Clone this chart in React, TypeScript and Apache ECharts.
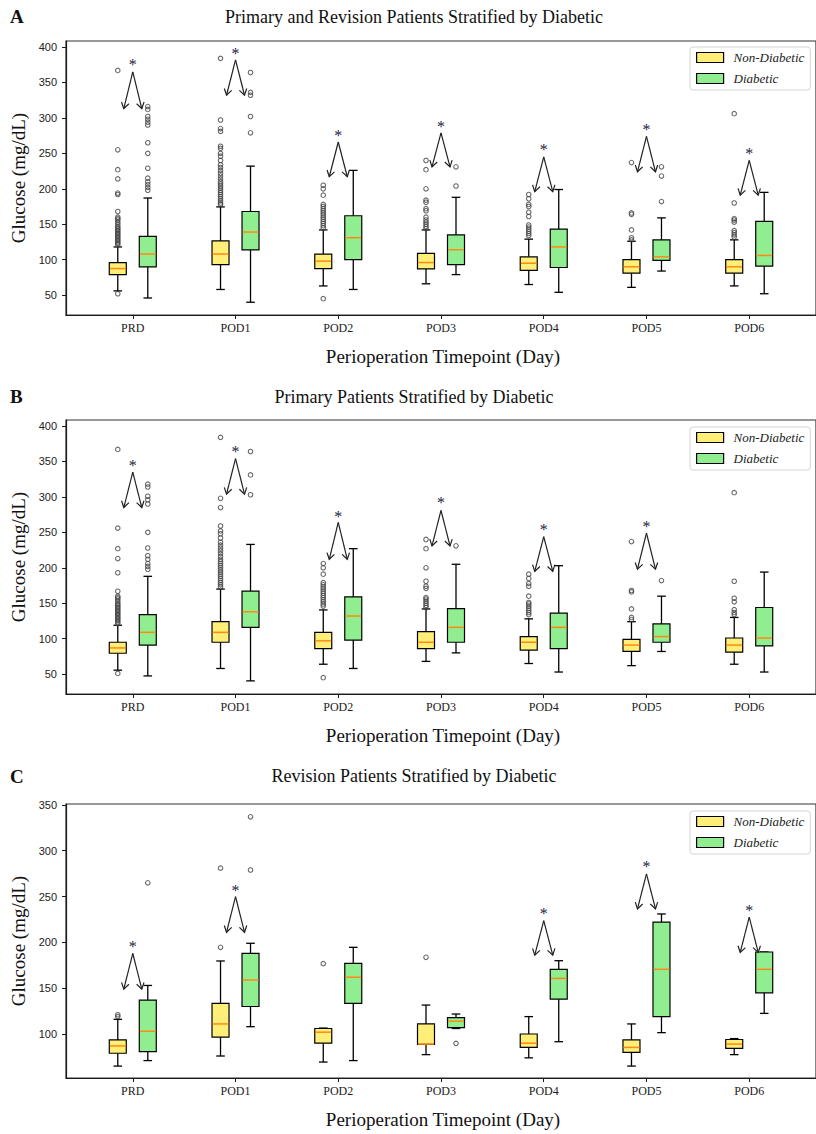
import React, { useEffect, useRef } from 'react';
import * as echarts from 'echarts';

const categories = ['PRD', 'POD1', 'POD2', 'POD3', 'POD4', 'POD5', 'POD6'];
const tickPositions = [1, 2, 3, 4, 5, 6, 7];
const yTicksAB = [50, 100, 150, 200, 250, 300, 350, 400];
const yTicksC = [100, 150, 200, 250, 300, 350];

const panelTitles = [
  'Primary and Revision Patients Stratified by Diabetic',
  'Primary Patients Stratified by Diabetic',
  'Revision Patients Stratified by Diabetic',
];
const panelLetters = ['A', 'B', 'C'];
const groupNames = ['Non-Diabetic', 'Diabetic'];

// box stats per category: [low whisker, Q1, median, Q3, high whisker]
const aNonDiabeticBox = [
  [56, 79, 87.5, 96, 118], [58, 93, 108, 126.5, 174.5], [63, 87.5, 98, 108, 142], [66, 87, 96, 109, 142],
  [65, 85, 95, 104, 129], [61, 81, 90, 100, 126], [63, 81, 90, 100, 128],
];
const aDiabeticBox = [
  [46, 90, 108, 133, 187], [40, 114, 139, 168, 232], [58, 100, 131, 162, 226], [79, 93, 114, 135, 188],
  [54, 89, 118, 143, 199], [84, 99, 104, 128, 159], [52, 91, 106, 154, 195],
];
const aNonDiabeticOutliers = [
  [52, 121, 123, 125, 127, 129, 131, 133, 135, 137, 139, 141, 143, 145, 147, 150, 153, 156, 158, 160, 168, 192, 194, 214, 227, 255, 367],
  [178, 180, 183, 186, 189, 192, 195, 198, 201, 204, 207, 210, 214, 218, 222, 226, 230, 234, 240, 246, 250, 257, 260, 281, 285, 297, 384],
  [45, 145, 148, 151, 154, 157, 160, 163, 166, 169, 172, 175, 178, 191, 200, 205],
  [144, 147, 150, 153, 156, 160, 169, 172, 181, 184, 200, 227, 240],
  [134, 137, 140, 143, 146, 149, 161, 167, 175, 178, 186, 192],
  [128, 131, 142, 164, 166, 237],
  [132, 135, 138, 141, 153, 156, 158, 180, 306],
];
const aDiabeticOutliers = [
  [198, 202, 206, 210, 215, 229, 250, 265, 290, 294, 298, 302, 312, 316],
  [279, 302, 332, 336, 364],
  [],
  [204, 231],
  [],
  [182, 218, 231],
  [],
];
// significance marks: [category position, star, arrow apex, arrow end]
const aMarks = [
  [1, 379, 365, 313], [2, 395, 382, 332], [3, 279, 266, 217], [4, 292, 279, 231],
  [5, 259, 245, 196], [6, 288, 274, 224], [7, 254, 240, 191],
];

const bNonDiabeticBox = [
  [55.6, 79.5, 87, 95, 119], [58, 95, 109, 124, 170], [64, 86, 97, 109, 140.6], [68, 86, 95, 110, 142],
  [65, 84, 95, 103, 128], [62, 82, 91, 99, 124], [64, 81, 91, 101, 130],
];
const bDiabeticBox = [
  [47.5, 91, 109, 134, 188], [40.5, 116, 138, 167, 233], [58, 98, 132, 159, 227], [80, 95, 116, 142.5, 205],
  [53, 86, 116, 136, 203], [82, 95, 103, 121, 160], [53, 90, 101, 144, 194],
];
const bNonDiabeticOutliers = [
  [51, 122, 124, 126, 128, 130, 132, 134, 136, 138, 140, 142, 144, 146, 148, 150, 153, 156, 158, 160, 167, 193, 213, 227, 256, 367],
  [173, 176, 179, 182, 185, 188, 191, 194, 197, 200, 203, 206, 209, 212, 216, 220, 224, 228, 232, 236, 242, 248, 252, 259, 285, 298, 384],
  [45, 146, 149, 152, 155, 158, 161, 164, 167, 170, 173, 176, 179, 191, 200, 206],
  [144, 147, 150, 153, 156, 158, 171, 174, 181, 200, 227, 240],
  [134, 137, 140, 143, 146, 149, 151, 160, 174, 178, 185, 191],
  [127, 130, 142, 166, 168, 237],
  [134, 137, 141, 152, 157, 181, 306],
];
const bDiabeticOutliers = [
  [198, 202, 206, 212, 217, 228, 250, 290, 296, 301, 314, 318],
  [303, 331, 364],
  [],
  [231],
  [],
  [182],
  [],
];
const bMarks = [
  [1, 349, 335, 285], [2, 368, 354, 304], [3, 277, 264, 212], [4, 296, 281, 231],
  [5, 258, 244, 195], [6, 262, 249, 198],
];

const cNonDiabeticBox = [
  [65, 79, 87, 93.5, 116], [76, 96.7, 111, 133.5, 179.7], [69.4, 90, 102, 106, 106.5], [77.5, 88.7, 89, 111, 131.6],
  [74, 85.4, 90, 100, 119], [65, 80, 85.4, 93.5, 111], [77.5, 84.4, 89, 94, 95],
];
const cDiabeticBox = [
  [71, 80.7, 103, 137, 153], [108, 130, 159, 188, 199], [71, 133.5, 162, 177, 194.6], [106, 107, 114, 117.8, 121.8],
  [91.6, 138, 160.7, 170.6, 180], [101.5, 119, 170.6, 222, 231], [122.5, 145, 170.6, 189.5, 189.5],
];
const cNonDiabeticOutliers = [[119, 121], [194.6, 281], [176.8], [183.7], [], [], []];
const cDiabeticOutliers = [[265], [279, 337], [], [89.8], [], [], []];
const cMarks = [
  [1, 199, 188, 149], [2, 260, 250, 211], [5, 234.6, 223.7, 186], [6, 286, 274.7, 236.5], [7, 238, 227.6, 189],
];

const YELLOW = '#FFEE77';
const GREEN = '#90EE90';
const MEDIAN = '#FF8A12';
const INK = '#1a1a1a';
const SERIF = '"Liberation Serif", "Times New Roman", serif';
const SANS = '"Liberation Sans", Arial, sans-serif';

const panels = [
  { box: [aNonDiabeticBox, aDiabeticBox], out: [aNonDiabeticOutliers, aDiabeticOutliers], marks: aMarks, top: 41, height: 274, min: 22, max: 408.5, ticks: yTicksAB, legendTop: 47, titleY: 16.5 },
  { box: [bNonDiabeticBox, bDiabeticBox], out: [bNonDiabeticOutliers, bDiabeticOutliers], marks: bMarks, top: 420, height: 274, min: 22, max: 408.5, ticks: yTicksAB, legendTop: 427, titleY: 396.5 },
  { box: [cNonDiabeticBox, cDiabeticBox], out: [cNonDiabeticOutliers, cDiabeticOutliers], marks: cMarks, top: 804, height: 274, min: 52, max: 351, ticks: yTicksC, legendTop: 811, titleY: 776 },
];

const GRID_LEFT = 66;
const GRID_WIDTH = 754;
const GROUP_OFFSETS = [-15, 15];
const GROUP_COLORS = [YELLOW, GREEN];

function boxSeries(name: string, stats: number[][], idx: number, offset: number, color: string) {
  return {
    type: 'custom',
    name,
    xAxisIndex: idx,
    yAxisIndex: idx,
    data: stats.map((s, i) => [i + 1, ...s]),
    encode: { x: 0, y: [1, 2, 3, 4, 5] },
    z: 3,
    silent: true,
    renderItem: (params: any, api: any) => {
      const x = api.value(0);
      const pLow = api.coord([x, api.value(1)]);
      const pQ1 = api.coord([x, api.value(2)]);
      const pMed = api.coord([x, api.value(3)]);
      const pQ3 = api.coord([x, api.value(4)]);
      const pHigh = api.coord([x, api.value(5)]);
      const cx = pLow[0] + offset;
      const hw = 8.5;
      const cw = 4.3;
      const ws = { stroke: '#000', lineWidth: 1.3 };
      return {
        type: 'group',
        children: [
          { type: 'line', shape: { x1: cx, y1: pQ1[1], x2: cx, y2: pLow[1] }, style: ws },
          { type: 'line', shape: { x1: cx, y1: pQ3[1], x2: cx, y2: pHigh[1] }, style: ws },
          { type: 'line', shape: { x1: cx - cw, y1: pLow[1], x2: cx + cw, y2: pLow[1] }, style: ws },
          { type: 'line', shape: { x1: cx - cw, y1: pHigh[1], x2: cx + cw, y2: pHigh[1] }, style: ws },
          {
            type: 'rect',
            shape: { x: cx - hw, y: pQ3[1], width: hw * 2, height: pQ1[1] - pQ3[1] },
            style: { fill: color, stroke: '#000', lineWidth: 1.2 },
          },
          { type: 'line', shape: { x1: cx - hw + 0.6, y1: pMed[1], x2: cx + hw - 0.6, y2: pMed[1] }, style: { stroke: MEDIAN, lineWidth: 1.5 } },
        ],
      };
    },
  };
}

function outlierSeries(name: string, lists: number[][], idx: number, offset: number) {
  const data: number[][] = [];
  lists.forEach((vals, i) => vals.forEach((v) => data.push([i + 1, v])));
  return {
    type: 'scatter',
    name,
    xAxisIndex: idx,
    yAxisIndex: idx,
    data,
    symbol: 'circle',
    symbolSize: 4.5,
    symbolOffset: [offset, 0],
    itemStyle: { color: 'rgba(0,0,0,0)', borderColor: '#444', borderWidth: 1.1 },
    z: 4,
    silent: true,
  };
}

function markSeries(marks: number[][], idx: number) {
  return {
    type: 'custom',
    name: 'significance',
    xAxisIndex: idx,
    yAxisIndex: idx,
    data: marks,
    encode: { x: 0, y: [1, 2, 3] },
    z: 5,
    silent: true,
    renderItem: (params: any, api: any) => {
      const x = api.value(0);
      const s = api.coord([x, api.value(1)]);
      const a = api.coord([x, api.value(2)]);
      const e = api.coord([x, api.value(3)]);
      const spread = 9;
      const L = 6;
      const W = 3.8;
      const st = { stroke: '#222', lineWidth: 1.2, fill: 'none' };
      const children: any[] = [];
      [-1, 1].forEach((dir) => {
        const ex = a[0] + dir * spread;
        const ey = e[1];
        children.push({ type: 'line', shape: { x1: a[0], y1: a[1], x2: ex, y2: ey }, style: st });
        const dx = ex - a[0];
        const dy = ey - a[1];
        const len = Math.hypot(dx, dy);
        const ux = dx / len;
        const uy = dy / len;
        const px = -uy;
        const py = ux;
        children.push({
          type: 'polyline',
          shape: {
            points: [
              [ex - ux * L + px * W, ey - uy * L + py * W],
              [ex, ey],
              [ex - ux * L - px * W, ey - uy * L - py * W],
            ],
          },
          style: st,
        });
      });
      children.push({
        type: 'text',
        x: s[0],
        y: s[1] + 3,
        style: { text: '*', font: `16px ${SERIF}`, fill: '#1c2340', align: 'center', verticalAlign: 'middle' },
      });
      return { type: 'group', children };
    },
  };
}

export default function App() {
  const ref = useRef<HTMLDivElement>(null);

  useEffect(() => {
    if (!ref.current) return;
    const chart = echarts.init(ref.current, undefined, { renderer: 'svg' });

    const grid: any[] = [];
    const xAxis: any[] = [];
    const yAxis: any[] = [];
    const series: any[] = [];
    const legend: any[] = [];
    const graphic: any[] = [];

    panels.forEach((p, idx) => {
      grid.push({
        left: GRID_LEFT,
        top: p.top,
        width: GRID_WIDTH,
        height: p.height,
        show: true,
        borderColor: '#333',
        borderWidth: 1.2,
        backgroundColor: 'transparent',
      });
      xAxis.push({
        gridIndex: idx,
        type: 'value',
        min: 0.35,
        max: 7.65,
        axisLine: { show: true, onZero: false, lineStyle: { color: INK, width: 1.2 } },
        axisTick: { show: true, length: 4, customValues: tickPositions, lineStyle: { color: INK, width: 1 } },
        axisLabel: {
          customValues: tickPositions,
          formatter: (v: number) => categories[Math.round(v) - 1] ?? '',
          margin: 7,
          fontFamily: SERIF,
          fontSize: 12,
          color: '#222',
        },
        splitLine: { show: false },
      });
      yAxis.push({
        gridIndex: idx,
        type: 'value',
        min: p.min,
        max: p.max,
        axisLine: { show: true, onZero: false, lineStyle: { color: INK, width: 1.2 } },
        axisTick: { show: true, length: 4, customValues: p.ticks, lineStyle: { color: INK, width: 1 } },
        axisLabel: { customValues: p.ticks, margin: 9, fontFamily: SANS, fontSize: 11, color: '#222' },
        splitLine: { show: false },
      });

      groupNames.forEach((name, g) => {
        series.push(boxSeries(name, p.box[g], idx, GROUP_OFFSETS[g], GROUP_COLORS[g]));
      });
      groupNames.forEach((name, g) => {
        series.push(outlierSeries(name + ' outliers', p.out[g], idx, GROUP_OFFSETS[g]));
      });
      series.push(markSeries(p.marks, idx));

      legend.push({
        orient: 'vertical',
        left: 690,
        top: p.legendTop,
        itemWidth: 27,
        itemHeight: 10,
        itemGap: 8,
        padding: [4, 6, 5, 6],
        backgroundColor: '#fff',
        borderColor: '#d4d4d4',
        borderWidth: 1,
        borderRadius: 3,
        selectedMode: false,
        textStyle: { fontFamily: SERIF, fontStyle: 'italic', fontSize: 13, color: '#222', padding: [0, 0, 0, 5] },
        data: groupNames.map((name, g) => ({
          name,
          icon: 'rect',
          itemStyle: { color: GROUP_COLORS[g], borderColor: '#000', borderWidth: 1.2 },
        })),
      });

      graphic.push({
        type: 'text',
        x: 10,
        y: p.titleY,
        style: { text: panelLetters[idx], font: `bold 19px ${SERIF}`, fill: '#111', align: 'left', verticalAlign: 'middle' },
      });
      graphic.push({
        type: 'text',
        x: 414,
        y: p.titleY,
        style: { text: panelTitles[idx], font: `18px ${SERIF}`, fill: '#111', align: 'center', verticalAlign: 'middle' },
      });
      graphic.push({
        type: 'text',
        x: GRID_LEFT + GRID_WIDTH / 2,
        y: p.top + p.height + 41,
        style: { text: 'Perioperation Timepoint (Day)', font: `19px ${SERIF}`, fill: '#111', align: 'center', verticalAlign: 'middle' },
      });
      graphic.push({
        type: 'text',
        x: 18.5,
        y: p.top + p.height / 2,
        rotation: Math.PI / 2,
        style: { text: 'Glucose (mg/dL)', font: `19px ${SERIF}`, fill: '#111', align: 'center', verticalAlign: 'middle' },
      });
    });

    chart.setOption({
      animation: false,
      backgroundColor: '#fff',
      grid,
      xAxis,
      yAxis,
      series,
      legend,
      graphic,
    });

    return () => chart.dispose();
  }, []);

  return (
    <div
      ref={ref}
      style={{ position: 'absolute', left: 0, top: 0, width: 816, height: 1134 }}
    />
  );
}
